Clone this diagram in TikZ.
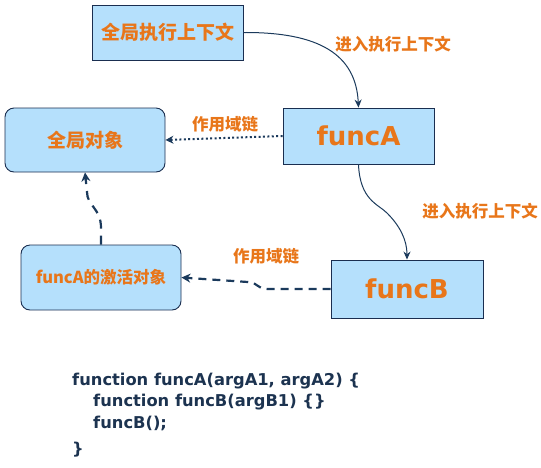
\documentclass[tikz,border=0pt]{standalone}
\usepackage{fontspec}
\setmainfont{DejaVu Sans}
\newfontfamily\cjk{Noto Sans CJK SC}
\usetikzlibrary{arrows.meta}
\definecolor{boxfill}{HTML}{B5E0FC}
\definecolor{boxline}{HTML}{1A2E50}
\definecolor{lbl}{HTML}{E8761A}
\definecolor{arr}{HTML}{1B3A5C}
\definecolor{code}{HTML}{1C3350}
\tikzset{
  sqbox/.style={draw=boxline, fill=boxfill, line width=0.9pt, inner sep=0pt},
  rbox/.style={sqbox, rounded corners=9pt},
  boxtxt/.style={text=lbl, font=\cjk\bfseries\fontsize{19}{21}\selectfont},
  bigtxt/.style={text=lbl, font=\bfseries\fontsize{26}{28}\selectfont},
  lbltxt/.style={text=lbl, font=\cjk\bfseries\fontsize{16.5}{18}\selectfont},
  conn/.style={draw=arr, line width=1pt, -{Stealth[length=8pt,width=7pt]}},
  codetxt/.style={text=code, anchor=west, inner sep=0pt, font=\bfseries\fontsize{16.3}{19}\selectfont}
}
\begin{document}
\begin{tikzpicture}[x=1pt,y=-1pt]
\useasboundingbox (0,0) rectangle (541,467);
% boxes
\node[sqbox, minimum width=151pt, minimum height=55pt] (gec) at (167.5,32.5) {};
\node[boxtxt] at (gec) {全局执行上下文};
\node[sqbox, minimum width=151pt, minimum height=56pt] (fa) at (358.5,136) {};
\node[bigtxt] at (fa) {funcA};
\node[rbox, minimum width=160pt, minimum height=64pt] (go) at (85,140) {};
\node[boxtxt] at (go) {全局对象};
\node[rbox, minimum width=160pt, minimum height=65pt] (ao) at (101,277.5) {};
\node[boxtxt, font=\cjk\bfseries\fontsize{16.5}{18}\selectfont] at (ao) {funcA的激活对象};
\node[sqbox, minimum width=152pt, minimum height=58pt] (fb) at (407,289) {};
\node[bigtxt] at (fb) {funcB};
% labels
\node[lbltxt] (l1) at (393,44) {进入执行上下文};
\node[lbltxt] (l2) at (480,211) {进入执行上下文};
\node[lbltxt] (l3) at (225,124) {作用域链};
\node[lbltxt] (l4) at (266,256) {作用域链};
% connectors
\draw[conn] (gec.east) .. controls (320,32) and (356,55) .. (fa.north);
\draw[conn] (fa.south) .. controls (360,200) and (378,204) .. (387,213) .. controls (400,226) and (407,240) .. (fb.north);
\draw[conn, line width=2pt, dash pattern=on 2pt off 2.4pt, -{Stealth[length=8pt,width=8pt]}] (fa.west) -- (go.east);
\draw[conn, line width=2.2pt, dash pattern=on 8pt off 6pt, -{Stealth[length=9pt,width=9pt]}] (fb.west) -- (268,289) .. controls (256,289) and (258,282) .. (248,282) -- (ao.east);
\draw[conn, line width=2.2pt, dash pattern=on 9pt off 7pt, -{Stealth[length=9pt,width=9pt]}] (ao.north) -- (101,228) .. controls (101,208) and (87,206) .. (87,192) -- (go.south);
% code
\node[codetxt] (c1) at (72,381) {function funcA(argA1, argA2) \{};
\node[codetxt] (c2) at (93,402) {function funcB(argB1) \{\}};
\node[codetxt] (c3) at (93,423) {funcB();};
\node[codetxt] (c4) at (72,450) {\}};
\end{tikzpicture}
\end{document}
